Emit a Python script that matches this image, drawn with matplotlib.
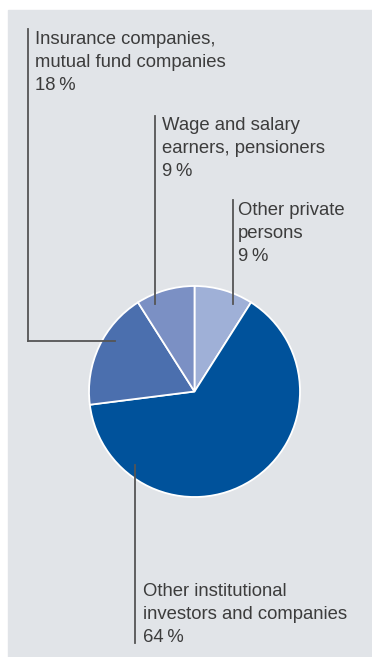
import matplotlib.pyplot as plt

# shareholder structure, clockwise from 12 o'clock
groups = ["Other private\npersons",
          "Other institutional\ninvestors and companies",
          "Insurance companies,\nmutual fund companies",
          "Wage and salary\nearners, pensioners"]
shares = [9, 64, 18, 9]
colors = ["#9fb0d7", "#00529b", "#4b6fae", "#7b90c4"]

W, H = 372, 657
fig = plt.figure(figsize=(W / 100, H / 100), dpi=100)
fig.patch.set_facecolor("white")
fig.add_artist(plt.Rectangle((8 / W, 0), 1, 1 - 10 / H, transform=fig.transFigure,
                             color="#e1e4e8", zorder=-5))

# pie
cx, cy, r = 194.5, 391.5, 105.5
ax = fig.add_axes([(cx - r) / W, (H - cy - r) / H, 2 * r / W, 2 * r / H])
ax.pie(shares, colors=colors, startangle=90, counterclock=False,
       wedgeprops=dict(edgecolor="white", linewidth=1.3))
ax.set_xlim(-1, 1)
ax.set_ylim(-1, 1)
ax.axis("off")

# overlay in pixel coordinates for leaders and labels, above the pie
ov = fig.add_axes([0, 0, 1, 1])
ov.set_zorder(2)
ov.set_xlim(0, W)
ov.set_ylim(H, 0)
ov.axis("off")

line_kw = dict(color="#555555", lw=1.3)
text_kw = dict(color="#3c3c3c", fontsize=13.3, family="Liberation Sans",
               va="top", ha="left", linespacing=1.45)

# leader lines: (vertical x, top y, bottom y, horizontal end x or None)
leaders = [
    (233, 200, 304, None),
    (135, 643, 465, None),
    (28, 29, 341, 115),
    (155, 116, 304, None),
]
text_pos = [(238, 202), (143, 583), (35, 31), (162, 117)]

for grp, val, (lx, y0, y1, hx), (tx, ty) in zip(groups, shares, leaders, text_pos):
    ov.plot([lx, lx], [y0, y1], **line_kw)
    if hx is not None:
        ov.plot([lx, hx], [y1, y1], **line_kw)
    ov.text(tx, ty, f"{grp}\n{val}\u2009%", **text_kw)

fig.savefig("out.png", dpi=100)
